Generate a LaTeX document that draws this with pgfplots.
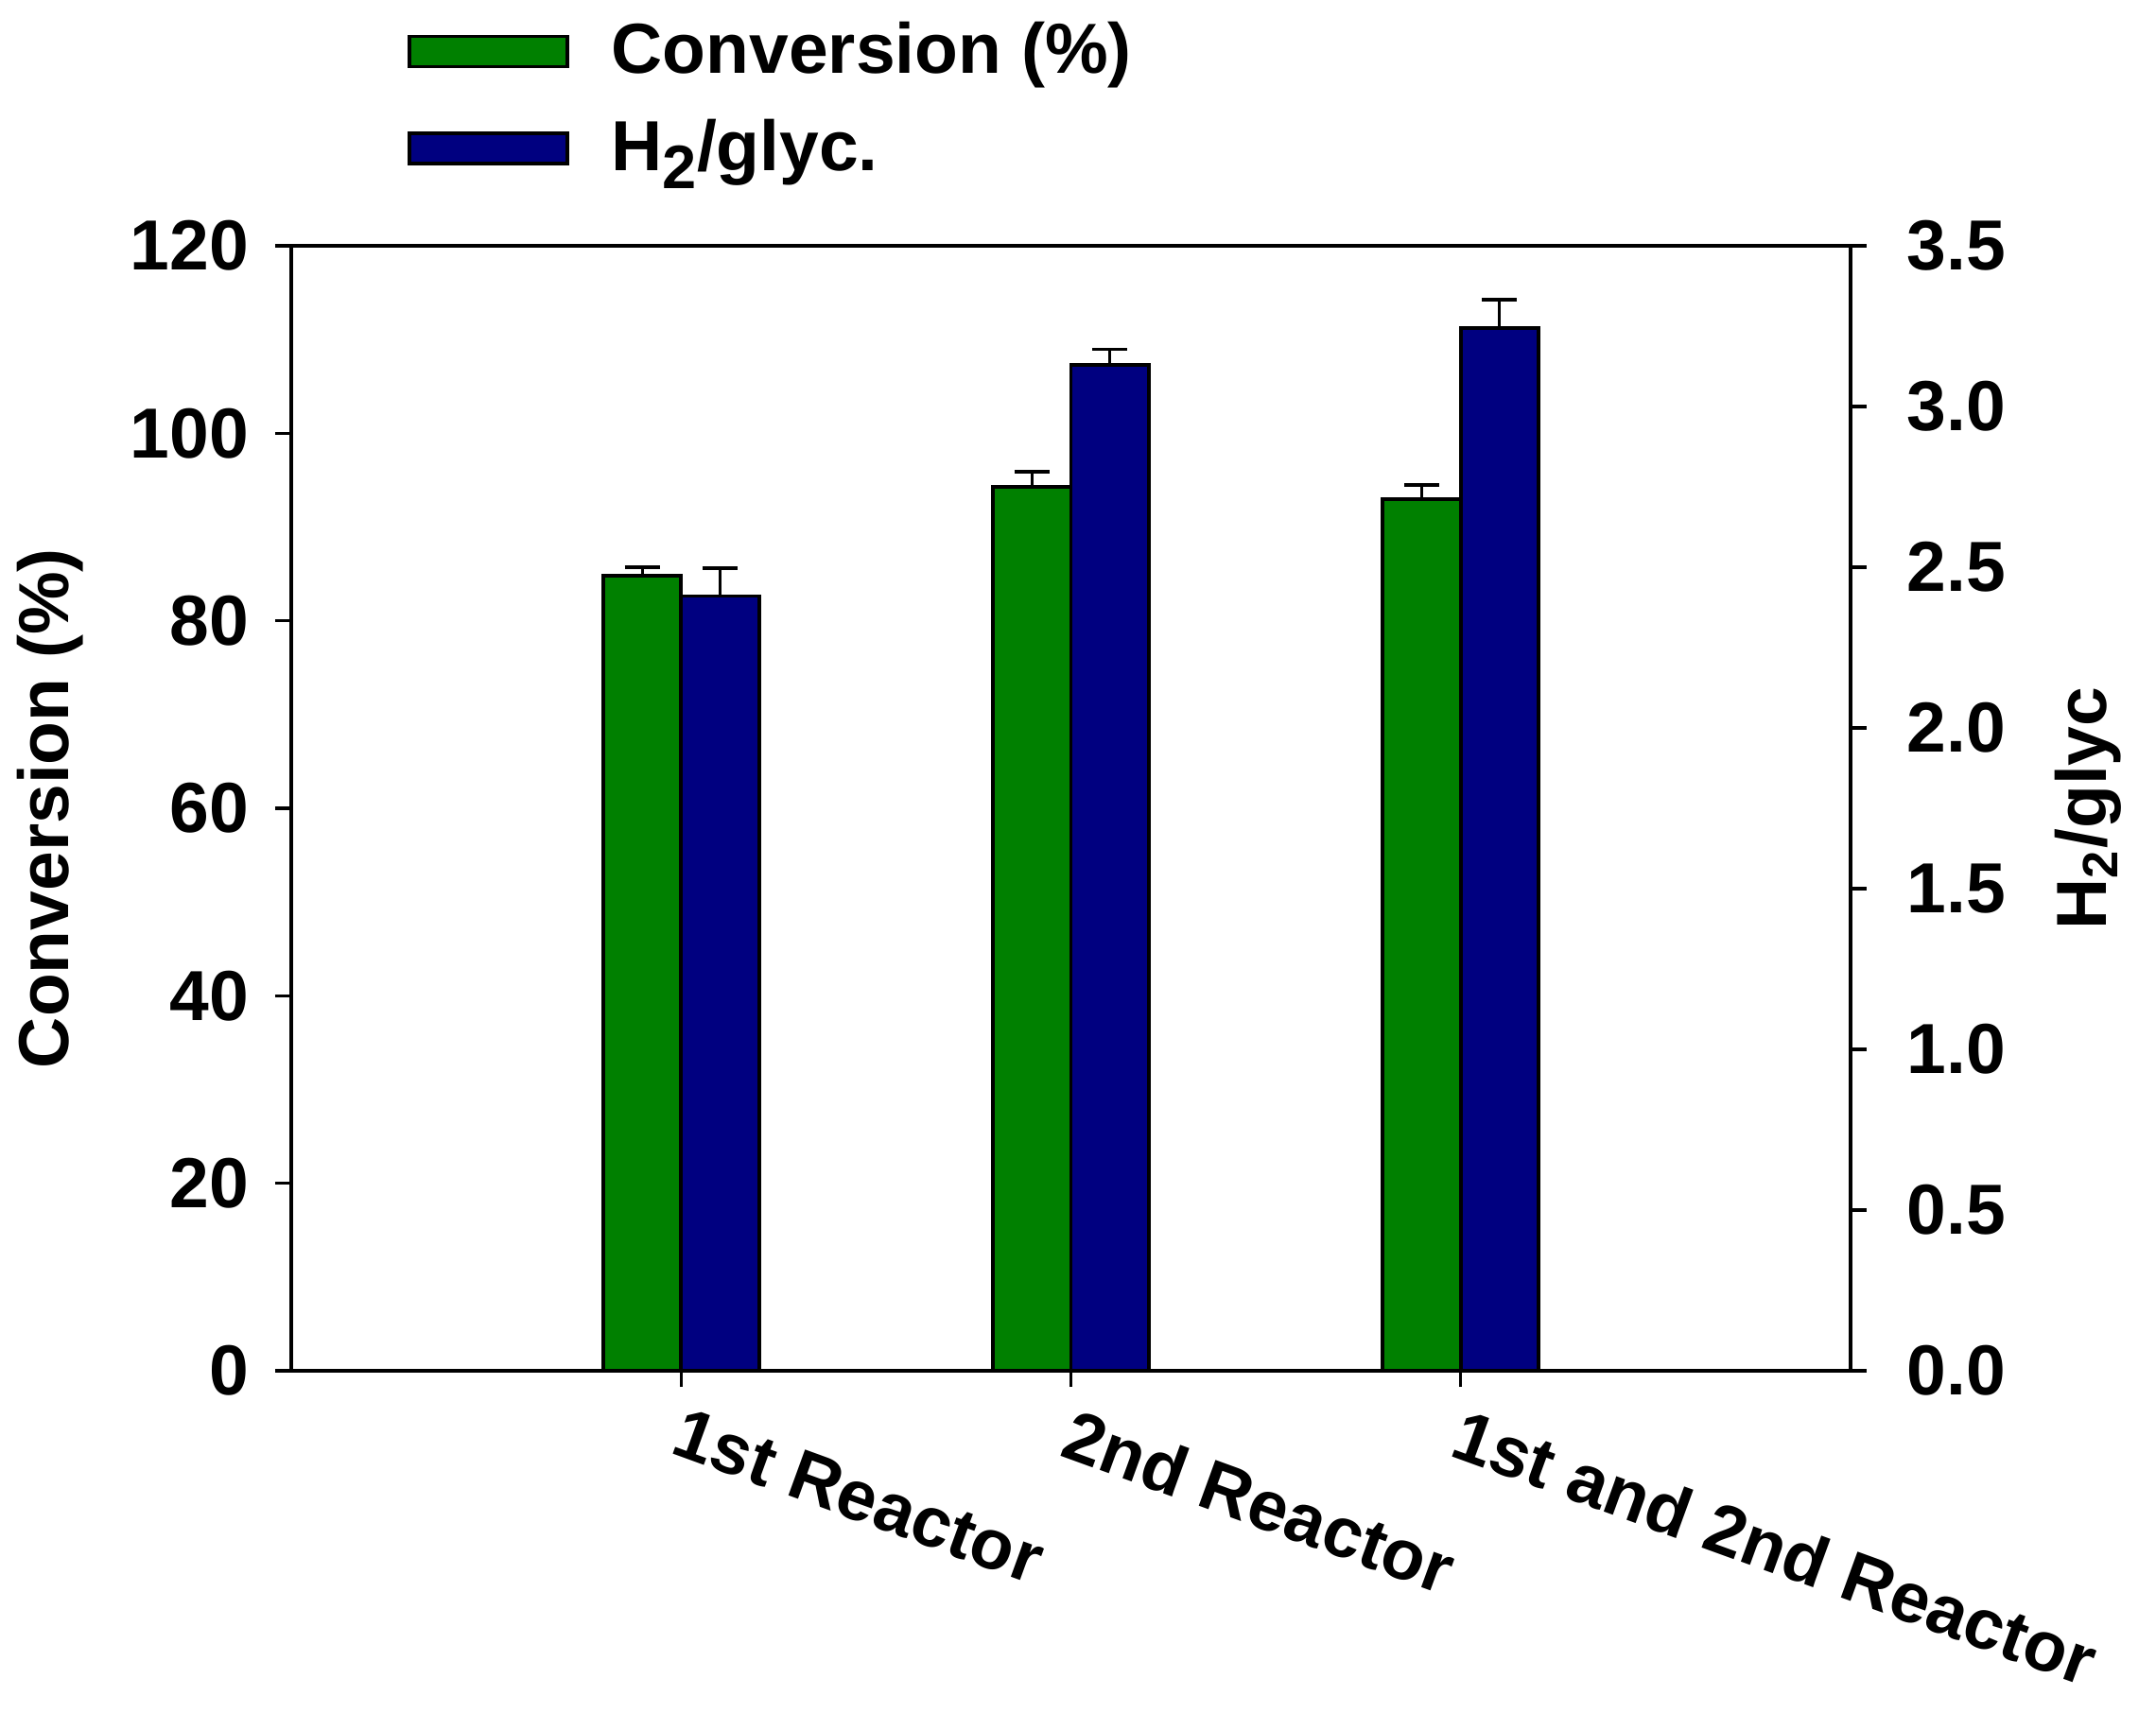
\documentclass[border=0pt]{standalone}
\usepackage{fontspec}
\setmainfont{Liberation Sans}
\usepackage{pgfplots}
\usepackage{pgfplotstable}
\pgfplotsset{compat=1.18}
\definecolor{cgreen}{RGB}{0,128,0}
\definecolor{cnavy}{RGB}{0,0,128}
\pgfplotstableread{
x y e
1 84.8 0.9
2 94.3 1.6
3 93.0 1.5
}\conv
\pgfplotstableread{
x y e
1 2.41 0.088
2 3.13 0.048
3 3.245 0.088
}\htwo
\pgfplotsset{
  mylegend/.style={legend image code/.code={\draw[##1,line width=0.74pt] (0pt,-3.2pt) rectangle (33.4pt,3.2pt);}},
  mybase/.style={
    scale only axis, width=329.8pt, height=238pt,
    xmin=0, xmax=4,
    tick align=outside, major tick length=3.4pt,
    every tick/.style={black, line width=0.66pt},
    axis line style={line width=0.66pt},
    tick label style={font=\fontsize{15}{18}\selectfont\bfseries},
    label style={font=\fontsize{15}{18}\selectfont\bfseries},
    /pgf/number format/assume math mode=true,
    ybar, bar width=0.2,
  },
  mybar/.style={draw=black, line width=0.74pt,
    error bars/.cd, y dir=plus, y explicit,
    error bar style={line width=0.6pt, black},
    error mark options={rotate=90, line width=0.75pt, mark size=3.7pt, black}},
}
\begin{document}
\begin{tikzpicture}
\path[use as bounding box] (-61.6pt,-72.2pt) rectangle (394.4pt,290pt);
\begin{axis}[mybase,
  ymin=0, ymax=120, ytick={0,20,...,120},
  xtick={1,2,3},
  xticklabels={1st Reactor, 2nd Reactor, 1st and 2nd Reactor},
  xtick pos=left, ytick pos=left,
  xticklabel style={rotate=-20, anchor=north west, inner sep=0pt, xshift=2.2pt, yshift=-3.4pt},
  yticklabel style={inner sep=0pt, xshift=-5.4pt},
  ylabel={Conversion (\%)},
  ylabel style={at={(axis description cs:-0.1762,0.5)}, anchor=north, inner sep=0pt},
  legend style={at={(axis description cs:0,1)}, anchor=north west,
    xshift=24.4pt, yshift=47.5pt, draw=none, fill=none, inner sep=0pt,
    row sep=8.1pt, font=\fontsize{15}{18}\selectfont\bfseries,
    nodes={inner sep=0pt},
    /tikz/every odd column/.append style={column sep=9pt}},
  legend cell align=left,
]
\addplot[fill=cgreen, bar shift=-0.1, mylegend, mybar] table[x=x, y=y, y error=e] {\conv};
\addlegendentry{Conversion (\%)}
\addlegendimage{fill=cnavy, draw=black, mylegend}
\addlegendentry{H{\fontsize{13}{13}\selectfont\raisebox{-0.3em}{2}}/glyc.}
\end{axis}
\begin{axis}[mybase,
  ymin=0, ymax=3.5, ytick={0,0.5,...,3.5},
  axis y line*=right, axis x line=none,
  yticklabel style={inner sep=0pt, xshift=8.4pt, /pgf/number format/.cd, fixed, fixed zerofill, precision=1},
  ylabel={H\textsubscript{2}/glyc},
  ylabel style={at={(axis description cs:1.1304,0.5)}, anchor=north, inner sep=0pt},
]
\addplot[fill=cnavy, bar shift=0.1, mybar] table[x=x, y=y, y error=e] {\htwo};
\end{axis}
\end{tikzpicture}
\end{document}
